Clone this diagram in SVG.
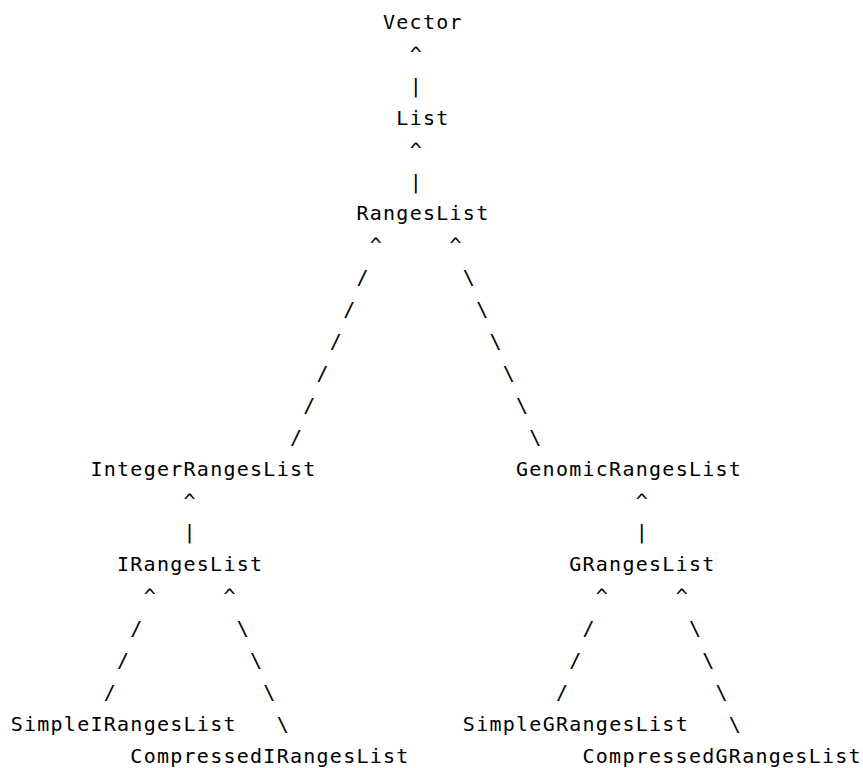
<svg xmlns="http://www.w3.org/2000/svg" width="863" height="768" viewBox="0 0 863 768">
<style>
text{font-family:"DejaVu Sans Mono","Liberation Mono",monospace;font-size:20px;letter-spacing:1.26px;fill:#000;}
</style>
<rect width="863" height="768" fill="#fff"/>
<g id="node-Vector"><text x="383.03" y="29">Vector</text></g>
<g id="node-List"><text x="396.33" y="124.7">List</text></g>
<g id="node-RangesList"><text x="356.43" y="220.4">RangesList</text></g>
<g id="node-IntegerRangesList"><text x="90.43" y="475.6">IntegerRangesList</text></g>
<g id="node-GenomicRangesList"><text x="516.03" y="475.6">GenomicRangesList</text></g>
<g id="node-IRangesList"><text x="117.03" y="571.3">IRangesList</text></g>
<g id="node-GRangesList"><text x="569.23" y="571.3">GRangesList</text></g>
<g id="node-SimpleIRangesList"><text x="10.63" y="730.8">SimpleIRangesList</text></g>
<g id="node-SimpleGRangesList"><text x="462.83" y="730.8">SimpleGRangesList</text></g>
<g id="node-CompressedIRangesList"><text x="130.33" y="762.7">CompressedIRangesList</text></g>
<g id="node-CompressedGRangesList"><text x="582.53" y="762.7">CompressedGRangesList</text></g>
<g id="connectors">
<text x="409.63" y="60.9">^</text>
<text x="409.63" y="92.8">|</text>
<text x="409.63" y="156.6">^</text>
<text x="409.63" y="188.5">|</text>
<text x="369.73" y="252.3">^</text>
<text x="449.53" y="252.3">^</text>
<text x="356.43" y="284.2">/</text>
<text x="343.13" y="316.1">/</text>
<text x="329.83" y="348">/</text>
<text x="316.53" y="379.9">/</text>
<text x="303.23" y="411.8">/</text>
<text x="289.93" y="443.7">/</text>
<text x="462.83" y="284.2">\</text>
<text x="476.13" y="316.1">\</text>
<text x="489.43" y="348">\</text>
<text x="502.73" y="379.9">\</text>
<text x="516.03" y="411.8">\</text>
<text x="529.33" y="443.7">\</text>
<text x="183.53" y="507.5">^</text>
<text x="183.53" y="539.4">|</text>
<text x="635.73" y="507.5">^</text>
<text x="635.73" y="539.4">|</text>
<text x="143.63" y="603.2">^</text>
<text x="223.43" y="603.2">^</text>
<text x="130.33" y="635.1">/</text>
<text x="117.03" y="667">/</text>
<text x="103.73" y="698.9">/</text>
<text x="236.73" y="635.1">\</text>
<text x="250.03" y="667">\</text>
<text x="263.33" y="698.9">\</text>
<text x="276.63" y="730.8">\</text>
<text x="595.83" y="603.2">^</text>
<text x="675.63" y="603.2">^</text>
<text x="582.53" y="635.1">/</text>
<text x="569.23" y="667">/</text>
<text x="555.93" y="698.9">/</text>
<text x="688.93" y="635.1">\</text>
<text x="702.23" y="667">\</text>
<text x="715.53" y="698.9">\</text>
<text x="728.83" y="730.8">\</text>
</g>
</svg>
